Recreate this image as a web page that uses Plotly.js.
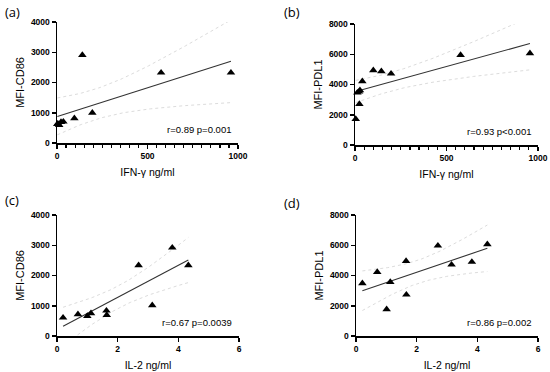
<!DOCTYPE html>
<html>
<head>
<meta charset="utf-8">
<script src="https://cdn.plot.ly/plotly-3.0.1.min.js"></script>
<style>html,body{margin:0;padding:0;background:#fff;}#chart{width:550px;height:372px;}</style>
</head>
<body>
<div id="chart"></div>
<script>
// Panel (a): IFN-gamma vs MFI-CD86
const ifnA = [2, 5, 12, 22, 35, 96, 140, 195, 575, 961];
const cd86A = [628, 640, 595, 694, 704, 816, 2909, 1000, 2324, 2324];
// Panel (b): IFN-gamma vs MFI-PDL1
const ifnB = [4, 13, 22, 24, 27, 40, 100, 144, 197, 577, 956];
const pdl1B = [1719, 3458, 3526, 2711, 3614, 4210, 4937, 4870, 4716, 5950, 6060];
// Panel (c): IL-2 vs MFI-CD86
const il2C = [0.2, 0.69, 1.0, 1.12, 1.63, 1.64, 2.69, 3.14, 3.80, 4.33];
const cd86C = [605, 717, 661, 750, 836, 694, 2337, 1014, 2920, 2337];
// Panel (d): IL-2 vs MFI-PDL1
const il2D = [0.21, 0.70, 1.01, 1.13, 1.65, 1.66, 2.70, 3.15, 3.82, 4.33];
const pdl1D = [3482, 4231, 1763, 3570, 4958, 2733, 5970, 4716, 4893, 6061];

const statsText = ["r=0.89 p=0.001", "r=0.93 p<0.001", "r=0.67 p=0.0039", "r=0.86 p=0.002"];
const panelLabels = ["(a)", "(b)", "(c)", "(d)"];
const xTitles = ["IFN-γ ng/ml", "IFN-γ ng/ml", "IL-2 ng/ml", "IL-2 ng/ml"];
const yTitles = ["MFI-CD86", "MFI-PDL1", "MFI-CD86", "MFI-PDL1"];

const tTable = {7: 2.365, 8: 2.306, 9: 2.262, 10: 2.228};

function fit(x, y) {
  const n = x.length;
  const mx = x.reduce((a, b) => a + b, 0) / n;
  const my = y.reduce((a, b) => a + b, 0) / n;
  let sxx = 0, sxy = 0;
  for (let i = 0; i < n; i++) { sxx += (x[i]-mx)**2; sxy += (x[i]-mx)*(y[i]-my); }
  const b = sxy / sxx, a = my - b * mx;
  let ssr = 0;
  for (let i = 0; i < n; i++) ssr += (y[i] - a - b*x[i])**2;
  const s = Math.sqrt(ssr / (n - 2));
  const t = tTable[n - 2] || 2.3;
  const xmin = Math.min(...x), xmax = Math.max(...x);
  const gx = [], fy = [], up = [], lo = [];
  const N = 80;
  for (let k = 0; k <= N; k++) {
    const xx = xmin + (xmax - xmin) * k / N;
    const yy = a + b * xx;
    const h = t * s * Math.sqrt(1/n + (xx-mx)**2 / sxx);
    gx.push(xx); fy.push(yy); up.push(yy + h); lo.push(yy - h);
  }
  return {gx, fy, up, lo};
}

const panels = [
  {x: ifnA, y: cd86A, xr: [0, 1000], yr: [0, 4000], xd: [57, 238], yd: [22, 143], xdt: 500, xminor: 50, ydt: 1000},
  {x: ifnB, y: pdl1B, xr: [0, 1000], yr: [0, 8000], xd: [355, 538], yd: [24, 145], xdt: 500, xminor: 50, ydt: 2000},
  {x: il2C, y: cd86C, xr: [0, 6], yr: [0, 4000], xd: [57, 239], yd: [215, 336], xdt: 2, xminor: null, ydt: 1000},
  {x: il2D, y: pdl1D, xr: [0, 6], yr: [0, 8000], xd: [356, 538], yd: [215, 336], xdt: 2, xminor: null, ydt: 2000}
];
const W = 550, H = 372;
const traces = [];
const layout = {
  width: W, height: H, margin: {l: 0, r: 0, t: 0, b: 0},
  paper_bgcolor: '#fff', plot_bgcolor: 'rgba(0,0,0,0)',
  showlegend: false, annotations: [],
  font: {family: 'Liberation Sans, Arial, sans-serif', color: '#000'}
};
const labelPos = [[3, 12], [282, 12], [3, 200], [282, 203]];

panels.forEach((p, i) => {
  const sx = i === 0 ? '' : String(i + 1);
  const xa = 'x' + sx, ya = 'y' + sx;
  const f = fit(p.x, p.y);
  const bandStyle = {color: '#dcdcdc', width: 1, dash: 'dot'};
  traces.push({x: f.gx, y: f.up, xaxis: xa, yaxis: ya, mode: 'lines', line: bandStyle, hoverinfo: 'skip'});
  traces.push({x: f.gx, y: f.lo, xaxis: xa, yaxis: ya, mode: 'lines', line: bandStyle, hoverinfo: 'skip'});
  traces.push({x: f.gx, y: f.fy, xaxis: xa, yaxis: ya, mode: 'lines', line: {color: '#333', width: 1.1}});
  traces.push({x: p.x, y: p.y, xaxis: xa, yaxis: ya, mode: 'markers', cliponaxis: false,
    marker: {symbol: 'triangle-up', size: 7.5, color: '#000'}});
  const axCommon = {showgrid: false, zeroline: false, showline: true, linecolor: '#000', linewidth: 1.5,
    ticks: 'outside', ticklen: 4, tickwidth: 1.5, tickcolor: '#000', automargin: false,
    tickfont: {family: 'Liberation Sans, Arial, sans-serif', size: 8.5, weight: 700, color: '#000'}};
  const xaxis = Object.assign({}, axCommon, {
    domain: [p.xd[0] / W, p.xd[1] / W], range: p.xr, anchor: ya, dtick: p.xdt, tick0: 0,
    title: {text: xTitles[i], font: {size: 10.5, color: '#000'}, standoff: 9}
  });
  if (p.xminor) xaxis.minor = {dtick: p.xminor, tick0: 0, ticks: 'outside', ticklen: 3, tickwidth: 1.2, tickcolor: '#000', showgrid: false};
  const yaxis = Object.assign({}, axCommon, {
    domain: [1 - p.yd[1] / H, 1 - p.yd[0] / H], range: p.yr, anchor: xa, dtick: p.ydt, tick0: 0,
    title: {text: yTitles[i], font: {size: 11, color: '#000'}, standoff: 4}
  });
  layout['xaxis' + sx] = xaxis;
  layout['yaxis' + sx] = yaxis;
  layout.annotations.push({xref: xa + ' domain', yref: ya + ' domain', x: 0.97, y: 0.05,
    xanchor: 'right', yanchor: 'bottom', showarrow: false, text: statsText[i],
    font: {size: 9.5, color: '#000'}});
  layout.annotations.push({xref: 'paper', yref: 'paper', x: labelPos[i][0] / W, y: 1 - labelPos[i][1] / H,
    xanchor: 'left', yanchor: 'middle', showarrow: false, text: panelLabels[i],
    font: {family: 'Open Sans, Noto Sans, sans-serif', size: 13, color: '#000'}});
});

Plotly.newPlot('chart', traces, layout, {staticPlot: true, displayModeBar: false});
</script>
</body>
</html>
